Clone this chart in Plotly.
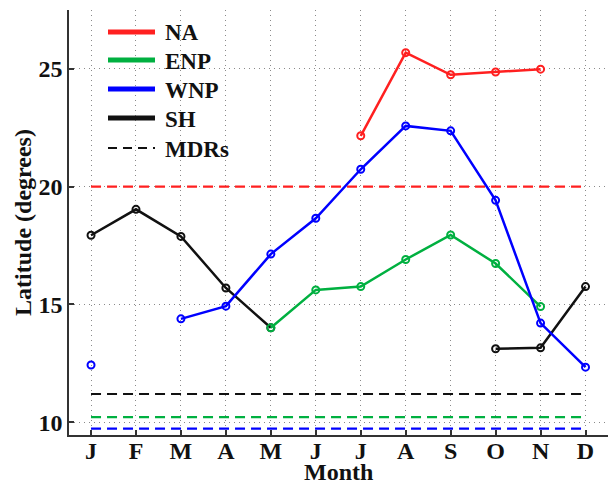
import plotly.graph_objects as go

# Monthly mean genesis latitude per basin (None = no data that month)
months = ["J", "F", "M", "A", "M", "J", "J", "A", "S", "O", "N", "D"]
month_idx = list(range(1, 13))

na_lat = [None, None, None, None, None, None, 22.16, 25.69, 24.75, 24.87, 24.99, None]
enp_lat = [None, None, None, None, 14.01, 15.62, 15.76, 16.91, 17.95, 16.74, 14.91, None]
wnp_lat = [12.43, None, 14.39, 14.93, 17.14, 18.66, 20.74, 22.58, 22.37, 19.42, 14.21, 12.34]
sh_lat = [17.94, 19.04, 17.89, 15.70, 14.01, None, None, None, None, 13.12, 13.16, 15.76]

# Mean latitude of each basin's main development region
mdr_basins = ["NA", "SH", "ENP", "WNP"]
mdr_lat = [20.0, 11.2, 10.22, 9.73]

basin_names = ["NA", "ENP", "WNP", "SH"]
basin_colors = {"NA": "#ff2020", "ENP": "#00b040", "WNP": "#0000ff", "SH": "#111111"}
basin_series = {"NA": na_lat, "ENP": enp_lat, "WNP": wnp_lat, "SH": sh_lat}

SERIF = "Liberation Serif"
TEXT = "#111111"

fig = go.Figure()

# MDR reference lines (dashed), spanning January to December
for name, lat in zip(mdr_basins, mdr_lat):
    fig.add_trace(go.Scatter(
        x=[month_idx[0], month_idx[-1]], y=[lat, lat],
        mode="lines",
        line=dict(color=basin_colors[name], width=2.2, dash="10px,6px"),
        showlegend=False, hoverinfo="skip",
    ))

# Monthly latitude curves
for name in ["SH", "ENP", "WNP", "NA"]:
    fig.add_trace(go.Scatter(
        x=month_idx, y=basin_series[name],
        mode="lines+markers",
        name=name,
        connectgaps=False,
        line=dict(color=basin_colors[name], width=2.5),
        marker=dict(symbol="circle-open", size=7, color=basin_colors[name],
                    line=dict(width=2, color=basin_colors[name])),
        showlegend=False,
    ))

# Page geometry (pixels) used to place the in-axes legend
L, R, T, B = 69, 1, 10, 49
W, H = 609, 484
pw, ph = W - L - R, H - T - B


def px_x(px):
    return (px - L) / pw


def px_y(py):
    return (H - B - py) / ph


# Legend drawn inside the axes, top-left
legend_items = [(n, basin_colors[n], "solid") for n in basin_names] + [("MDRs", TEXT, "dash")]
row_y = [32, 60, 89, 118, 148]
for (label, color, style), ry in zip(legend_items, row_y):
    fig.add_shape(
        type="line", xref="paper", yref="paper",
        x0=px_x(108), x1=px_x(155), y0=px_y(ry), y1=px_y(ry),
        line=dict(color=color, width=5 if style == "solid" else 2.2,
                  dash="solid" if style == "solid" else "9px,6px"),
    )
    fig.add_annotation(
        xref="paper", yref="paper", x=px_x(163), y=px_y(ry + 1),
        text=label, showarrow=False, xanchor="left", yanchor="middle",
        font=dict(family=SERIF, size=23, color=TEXT, weight="bold"),
    )

# x-axis title sits just under the month letters
fig.add_annotation(
    xref="paper", yref="paper", x=px_x(338), y=px_y(472),
    text="Month", showarrow=False, xanchor="center", yanchor="middle",
    font=dict(family=SERIF, size=24, color=TEXT, weight="bold"),
)

fig.update_layout(
    width=W, height=H,
    margin=dict(l=L, r=R, t=T, b=B),
    paper_bgcolor="white", plot_bgcolor="white",
    showlegend=False,
)

grid_style = dict(showgrid=True, gridcolor="#8a8a8a", griddash="1px,4px", gridwidth=1)

fig.update_xaxes(
    range=[0.51, 12.5],
    tickmode="array", tickvals=month_idx, ticktext=months,
    tickfont=dict(family=SERIF, size=24, color=TEXT, weight="bold"),
    ticks="inside", ticklen=5, tickcolor="#333333", tickwidth=1.5,
    ticklabelstandoff=-7,
    showline=True, linecolor="#333333", linewidth=1.5,
    zeroline=False, **grid_style,
)
fig.update_yaxes(
    range=[9.46, 27.5],
    tickmode="array", tickvals=[10, 15, 20, 25],
    tickfont=dict(family=SERIF, size=24, color=TEXT, weight="bold"),
    ticks="inside", ticklen=5, tickcolor="#333333", tickwidth=1.5,
    showline=True, linecolor="#333333", linewidth=1.5,
    zeroline=False, **grid_style,
    title=dict(text="Latitude (degrees)", standoff=0,
               font=dict(family=SERIF, size=24, color=TEXT, weight="bold")),
)

fig.write_html("out.html")
